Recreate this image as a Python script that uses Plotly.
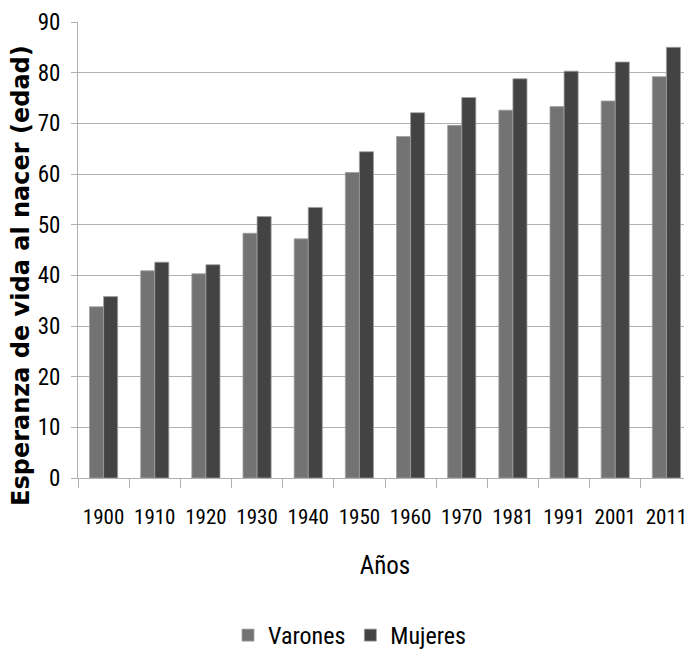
import plotly.graph_objects as go

years = ["1900", "1910", "1920", "1930", "1940", "1950", "1960", "1970", "1981", "1991", "2001", "2011"]
varones = [33.8, 40.9, 40.3, 48.3, 47.2, 60.3, 67.4, 69.6, 72.6, 73.3, 74.4, 79.2]
mujeres = [35.8, 42.6, 42.1, 51.6, 53.4, 64.4, 72.1, 75.1, 78.8, 80.3, 82.1, 85.0]
y_ticks = [0, 10, 20, 30, 40, 50, 60, 70, 80, 90]

NARROW = "Roboto Condensed, sans-serif"

fig = go.Figure()
fig.add_trace(go.Bar(x=years, y=varones, name="Varones",
                     marker=dict(color="#737373", line=dict(color="#a0a0a0", width=0.8))))
fig.add_trace(go.Bar(x=years, y=mujeres, name="Mujeres",
                     marker=dict(color="#434343", line=dict(color="#a0a0a0", width=0.8))))

fig.add_annotation(text="Esperanza de vida al nacer (edad)", textangle=-90,
                   xref="paper", yref="paper", x=-0.093, y=0.445,
                   xanchor="center", yanchor="middle", showarrow=False,
                   font=dict(size=24, family="DejaVu Sans", weight="bold", color="black"))

# page body has an 8px margin, so the figure is 684x650 to fill a 692x658 window
fig.update_layout(
    width=684, height=650,
    margin=dict(l=70, r=0, t=14, b=180),
    paper_bgcolor="white", plot_bgcolor="white",
    barmode="group", bargap=0.45, bargroupgap=0,
    font=dict(family=NARROW, color="black", size=22),
    legend=dict(orientation="h", x=0.5, xanchor="center", xref="container",
                y=8, yanchor="middle", yref="container",
                font=dict(size=24, family=NARROW, color="black"),
                traceorder="normal"),
    xaxis=dict(type="category", tickson="boundaries", ticks="outside", ticklen=9,
               tickcolor="#b0b0b0", showline=True, linecolor="#b0b0b0", linewidth=1,
               tickangle=0, ticklabelstandoff=20,
               tickfont=dict(size=21, family=NARROW, color="black"),
               title=dict(text="Años", font=dict(size=25, family=NARROW, color="black"),
                          standoff=28)),
    yaxis=dict(range=[0, 90], tickvals=y_ticks, ticks="outside", ticklen=6,
               tickcolor="#b0b0b0", showline=True, linecolor="#b0b0b0", linewidth=1,
               gridcolor="#b0b0b0", gridwidth=1, zeroline=False,
               ticklabelstandoff=6,
               tickfont=dict(size=23, family=NARROW, color="black")),
)

fig.write_html("out.html")
